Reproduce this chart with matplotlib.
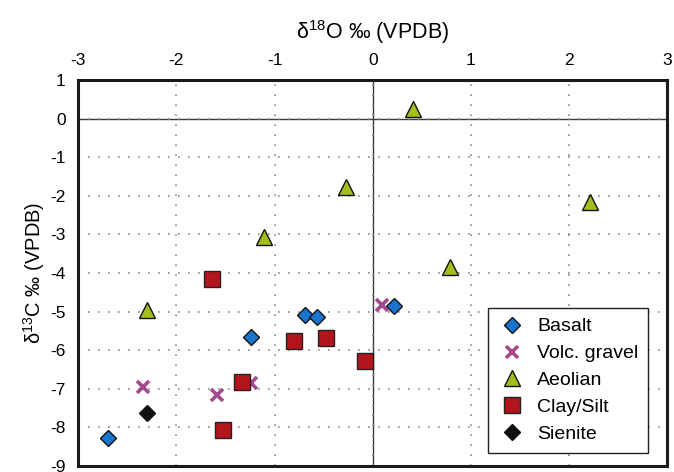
import numpy as np
import matplotlib
matplotlib.use("Agg")
import matplotlib.pyplot as plt

plt.rcParams['font.family'] = ['Liberation Sans', 'DejaVu Sans']
plt.rcParams['mathtext.default'] = 'regular'
plt.rcParams['axes.unicode_minus'] = False

# d18O (x) and d13C (y) per group
basalt_x = [-2.70, -1.24, -0.69, -0.57, 0.22]
basalt_y = [-8.28, -5.66, -5.08, -5.15, -4.85]

volc_x = [-2.34, -1.59, -1.24, 0.09]
volc_y = [-6.96, -7.17, -6.86, -4.82]

aeolian_x = [0.41, -0.27, -1.11, -2.30, 2.21, 0.79]
aeolian_y = [0.24, -1.78, -3.08, -4.95, -2.15, -3.84]

clay_x = [-1.64, -0.80, -0.48, -0.08, -1.33, -1.53]
clay_y = [-4.16, -5.75, -5.69, -6.28, -6.82, -8.07]

sienite_x = [-2.30]
sienite_y = [-7.63]

xticks = np.arange(-3, 4)
yticks = np.arange(-9, 2)

fig = plt.figure(figsize=(6.74, 4.72), dpi=100)
ax = fig.add_axes([0.116, 0.0127, 0.874, 0.8178])

ax.set_xlim(-3, 3)
ax.set_ylim(-9, 1)
ax.set_xticks(xticks)
ax.set_yticks(yticks)
ax.grid(True, linestyle=(0, (1, 5)), linewidth=1.2, color='#8a8a8a')
ax.axhline(0, color='#3a3a3a', linewidth=1.0, zorder=1)
ax.axvline(0, color='#3a3a3a', linewidth=1.0, zorder=1)

for sp in ax.spines.values():
    sp.set_linewidth(2.2)
    sp.set_color('#1a1a1a')

ax.xaxis.tick_top()
ax.xaxis.set_label_position('top')
ax.tick_params(axis='both', length=0, labelsize=12.5)
ax.tick_params(axis='x', pad=9)
ax.tick_params(axis='y', pad=9)

ax.set_xlabel('δ$^{18}$O ‰ (VPDB)', fontsize=15.5, labelpad=10)
ax.set_ylabel('δ$^{13}$C ‰ (VPDB)', fontsize=14.5, labelpad=2)

ax.plot(basalt_x, basalt_y, 'D', ms=8, mfc='#1874cd', mec='#111111', mew=1, label='Basalt', zorder=3)
ax.plot(volc_x, volc_y, 'x', ms=9, mec='#a34a8e', mew=2.6, label='Volc. gravel', zorder=3)
ax.plot(aeolian_x, aeolian_y, '^', ms=12, mfc='#a4bd1c', mec='#111111', mew=1, label='Aeolian', zorder=3)
ax.plot(clay_x, clay_y, 's', ms=11.5, mfc='#b3151d', mec='#222222', mew=1, label='Clay/Silt', zorder=3)
ax.plot(sienite_x, sienite_y, 'D', ms=8, mfc='#111111', mec='#111111', mew=1, label='Sienite', zorder=3)

leg = ax.legend(loc='lower right', bbox_to_anchor=(0.968, 0.034), borderaxespad=0,
                fontsize=14, fancybox=False, framealpha=1, edgecolor='#222222',
                borderpad=0.5, labelspacing=0.48, handletextpad=0.55, handlelength=1.5)
leg.get_frame().set_linewidth(1.0)

fig.savefig('out.png', dpi=100)
